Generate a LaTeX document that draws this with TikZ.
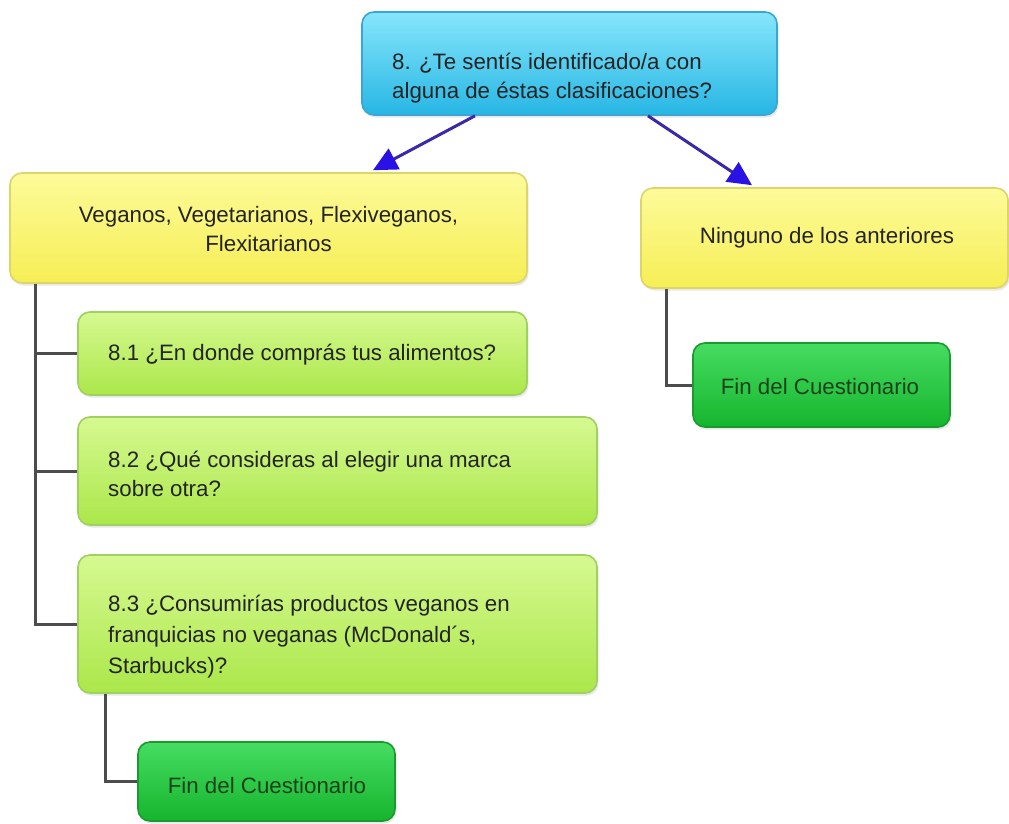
\documentclass[tikz,border=0pt]{standalone}
\usepackage{fontspec}
\setmainfont{Liberation Sans}
\usetikzlibrary{arrows.meta,shadows,calc}
\definecolor{cyanT}{HTML}{86E6FB}
\definecolor{cyanB}{HTML}{27B6E4}
\definecolor{cyanD}{HTML}{3AA6D6}
\definecolor{yelT}{HTML}{FDFB9A}
\definecolor{yelB}{HTML}{F6EE55}
\definecolor{yelD}{HTML}{DDD46A}
\definecolor{lgT}{HTML}{D6F991}
\definecolor{lgB}{HTML}{ABE74A}
\definecolor{lgD}{HTML}{A0D060}
\definecolor{dgT}{HTML}{46DC62}
\definecolor{dgB}{HTML}{16B52E}
\definecolor{dgD}{HTML}{1B9A2F}
\definecolor{txtdark}{HTML}{242424}
\definecolor{txtgreen}{HTML}{1C421C}
\definecolor{arrowblue}{HTML}{3A2AA8}
\definecolor{headblue}{HTML}{2A12E4}
\definecolor{treegray}{HTML}{4C4C4C}
\begin{document}
\begin{tikzpicture}[x=1pt,y=-1pt,
  box/.style={rounded corners=12pt, line width=1.6pt, inner sep=0pt,
    drop shadow={opacity=0.18, shadow xshift=1.5pt, shadow yshift=-2.5pt}},
  cyanbox/.style={box, draw=cyanD, top color=cyanT, bottom color=cyanB},
  yelbox/.style={box, draw=yelD, top color=yelT, bottom color=yelB},
  lgbox/.style={box, draw=lgD, top color=lgT, bottom color=lgB},
  dgbox/.style={box, draw=dgD, top color=dgT, bottom color=dgB},
  txt/.style={font=\fontsize{22.3}{29.5}\selectfont, text=txtdark, inner sep=0pt},
  fintxt/.style={txt, text=txtgreen},
  arr/.style={draw=arrowblue, line width=3pt,
    -{Triangle[length=24pt,width=23pt,color=headblue,fill=headblue]}},
  tree/.style={draw=treegray, line width=3pt}]
\useasboundingbox[fill=white] (0,0) rectangle (1009,823);

% boxes
\node[cyanbox, minimum width=415pt, minimum height=103pt] (q8) at (569.5,63.5) {};
\node[txt, anchor=west, align=left] (q8t) at (392,78) {8. ¿Te sentís identificado/a con\\alguna de éstas clasificaciones?};

\node[yelbox, minimum width=517pt, minimum height=110pt] (yl) at (268.5,228) {};
\node[txt, align=center] (ylt) at (268.5,229) {Veganos, Vegetarianos, Flexiveganos,\\Flexitarianos};

\node[yelbox, minimum width=367pt, minimum height=100pt] (yr) at (824.5,238) {};
\node[txt] (yrt) at (827,238) {Ninguno de los anteriores};

\node[lgbox, minimum width=449pt, minimum height=83pt] (g1) at (302.5,353.5) {};
\node[txt, anchor=west] (g1t) at (108,355) {8.1 ¿En donde comprás tus alimentos?};

\node[lgbox, minimum width=519pt, minimum height=108pt] (g2) at (337.5,471) {};
\node[txt, anchor=west, align=left] (g2t) at (108,474) {8.2 ¿Qué consideras al elegir una marca\\sobre otra?};

\node[lgbox, minimum width=519pt, minimum height=138pt] (g3) at (337.5,624) {};
\node[txt, anchor=west, align=left, font=\fontsize{22.3}{31}\selectfont] (g3t) at (108,637) {8.3 ¿Consumirías productos veganos en\\franquicias no veganas (McDonald´s,\\Starbucks)?};

\node[dgbox, minimum width=257pt, minimum height=79pt] (f1) at (266.5,781.5) {};
\node[fintxt] (f1t) at (267,786) {Fin del Cuestionario};

\node[dgbox, minimum width=257pt, minimum height=84pt] (f2) at (821.5,385) {};
\node[fintxt] (f2t) at (820,387) {Fin del Cuestionario};

% arrows
\draw[arr] ([xshift=-94.5pt]q8.south) -- ([xshift=104.5pt, yshift=2pt]yl.north);
\draw[arr] ([xshift=78.5pt]q8.south) -- ([xshift=-72.5pt, yshift=2pt]yr.north);

% tree connectors
\draw[tree] ([xshift=26pt]yl.south west) |- (g1.west);
\draw[tree] ([xshift=26pt]yl.south west) |- (g2.west);
\draw[tree] ([xshift=26pt]yl.south west) |- (g3.west);
\draw[tree] ([xshift=28pt]g3.south west) |- (f1.west);
\draw[tree] ([xshift=26pt]yr.south west) |- (f2.west);
\end{tikzpicture}
\end{document}
